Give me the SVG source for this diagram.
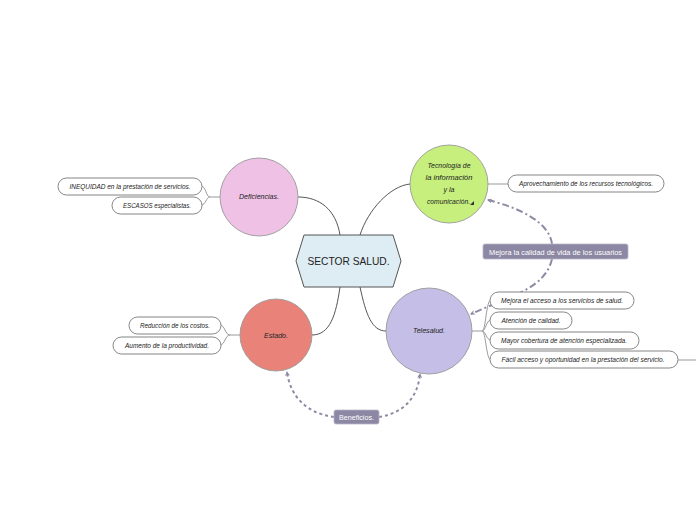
<svg xmlns="http://www.w3.org/2000/svg" width="696" height="520" viewBox="0 0 696 520">
<defs>
<marker id="arr" viewBox="0 0 10 10" refX="8" refY="5" markerWidth="5" markerHeight="5" orient="auto-start-reverse" markerUnits="userSpaceOnUse">
<path d="M0,0 L10,5 L0,10 L3,5 Z" fill="#8e8aa6"/>
</marker>
</defs>
<style>
.conn{fill:none;stroke:#555;stroke-width:1}
.leafc{fill:none;stroke:#999;stroke-width:1}
.pill{fill:#fff;stroke:#777;stroke-width:0.9}
.t{font-family:"Liberation Sans",Arial,sans-serif;font-style:italic;font-size:7px;fill:#222}
.rel{fill:none;stroke:#8e8aa6;stroke-width:2}
.lab{fill:#8c87a3;stroke:#b9b5c9;stroke-width:0.8}
.lt{font-family:"Liberation Sans",Arial,sans-serif;font-size:7.5px;fill:#fff}
.circ{stroke:#999;stroke-width:0.9}
</style>
<rect width="696" height="520" fill="#fff"/>
<g id="connectors">
<path class="conn" d="M340,235 C336,210 320,197 298,197"/>
<path class="conn" d="M360,235 C368,210 390,186 410,184"/>
<path class="conn" d="M340,287 C336,315 330,335 312,335"/>
<path class="conn" d="M360,287 C366,315 372,331 386,331"/>
<path class="leafc" d="M220,197 H210 C206,197 206,186 201,186 M210,197 C206,197 206,205 201,205"/>
<path class="leafc" d="M488,184 H508"/>
<path class="leafc" d="M240,335 H230 C225,335 225,325 220,325 M230,335 C225,335 225,345 220,345"/>
<path class="leafc" d="M472,331 H482 C486,331 486,300 491,300 M482,331 C486,331 486,320 491,320 M482,331 C486,331 486,340 491,340 M482,331 C486,331 486,360 491,360"/>
<path class="leafc" d="M678,360 H696"/>
<path class="rel" stroke-dasharray="7 3 2 3" d="M552,244 C549,222 520,208 488,200" marker-end="url(#arr)"/>
<path class="rel" stroke-dasharray="7 3 2 3" d="M552,259 C545,290 505,298 471,314" marker-end="url(#arr)"/>
<path class="rel" stroke-dasharray="3 3" d="M334,417 C305,413 290,395 287,372" marker-end="url(#arr)"/>
<path class="rel" stroke-dasharray="3 3" d="M379,417 C405,413 418,396 420,374" marker-end="url(#arr)"/>
</g>
<g id="center">
<polygon points="296,261 304,235 393,235 401,261 393,287 304,287" fill="#deedf3" stroke="#555" stroke-width="1"/>
<text x="348.5" y="265" text-anchor="middle" font-family="'Liberation Sans Narrow','Liberation Sans',sans-serif" font-size="11" fill="#222" textLength="82" lengthAdjust="spacingAndGlyphs">SECTOR SALUD.</text>
</g>
<g id="deficiencias">
<circle class="circ" cx="259" cy="197" r="39" fill="#efc1e5"/>
<text class="t" x="259" y="199" text-anchor="middle" textLength="40" lengthAdjust="spacingAndGlyphs">Deficiencias.</text>
</g>
<g id="inequidad">
<rect class="pill" x="58" y="178" width="144" height="17" rx="8.5"/>
<text class="t" x="130" y="189" text-anchor="middle" textLength="121" lengthAdjust="spacingAndGlyphs">INEQUIDAD en la prestación de servicios.</text>
</g>
<g id="escasos">
<rect class="pill" x="112" y="197" width="90" height="17" rx="8.5"/>
<text class="t" x="157" y="208" text-anchor="middle" textLength="68" lengthAdjust="spacingAndGlyphs">ESCASOS especialistas.</text>
</g>
<g id="tecnologia">
<circle class="circ" cx="449" cy="184" r="39" fill="#c6ef7d"/>
<text class="t" x="449" y="168" text-anchor="middle" textLength="43" lengthAdjust="spacingAndGlyphs">Tecnología de</text>
<text class="t" x="449" y="180" text-anchor="middle" textLength="47" lengthAdjust="spacingAndGlyphs">la información</text>
<text class="t" x="449" y="192" text-anchor="middle">y la</text>
<text class="t" x="448.5" y="204" text-anchor="middle" textLength="43" lengthAdjust="spacingAndGlyphs">comunicación.</text>
<polygon points="470,205 474,201 474,205" fill="#333"/>
</g>
<g id="aprovechamiento">
<rect class="pill" x="508" y="175" width="156" height="17" rx="8.5"/>
<text class="t" x="586" y="186" text-anchor="middle" textLength="134" lengthAdjust="spacingAndGlyphs">Aprovechamiento de los recursos tecnológicos.</text>
</g>
<g id="estado">
<circle class="circ" cx="276" cy="335" r="36" fill="#e9837a"/>
<text class="t" x="276" y="338" text-anchor="middle" textLength="24" lengthAdjust="spacingAndGlyphs">Estado.</text>
</g>
<g id="reduccion">
<rect class="pill" x="129" y="317" width="92" height="17" rx="8.5"/>
<text class="t" x="175" y="328" text-anchor="middle" textLength="70" lengthAdjust="spacingAndGlyphs">Reducción de los costos.</text>
</g>
<g id="aumento">
<rect class="pill" x="113" y="337" width="108" height="17" rx="8.5"/>
<text class="t" x="167" y="348" text-anchor="middle" textLength="84" lengthAdjust="spacingAndGlyphs">Aumento de la productividad.</text>
</g>
<g id="telesalud">
<circle class="circ" cx="429" cy="331" r="43" fill="#c5bee6"/>
<text class="t" x="429" y="333" text-anchor="middle" textLength="32" lengthAdjust="spacingAndGlyphs">Telesalud.</text>
</g>
<g id="mejora-acceso">
<rect class="pill" x="490" y="292" width="144" height="17" rx="8.5"/>
<text class="t" x="562" y="303" text-anchor="middle" textLength="122" lengthAdjust="spacingAndGlyphs">Mejora el acceso a los servicios de salud.</text>
</g>
<g id="atencion">
<rect class="pill" x="490" y="312" width="82" height="17" rx="8.5"/>
<text class="t" x="531" y="323" text-anchor="middle" textLength="59" lengthAdjust="spacingAndGlyphs">Atención de calidad.</text>
</g>
<g id="cobertura">
<rect class="pill" x="490" y="332" width="149" height="17" rx="8.5"/>
<text class="t" x="564" y="343" text-anchor="middle" textLength="126" lengthAdjust="spacingAndGlyphs">Mayor cobertura de atención especializada.</text>
</g>
<g id="facil">
<rect class="pill" x="490" y="351" width="188" height="17" rx="8.5"/>
<text class="t" x="583" y="362" text-anchor="middle" textLength="163" lengthAdjust="spacingAndGlyphs">Fácil acceso y oportunidad en la prestación del servicio.</text>
</g>
<g id="label-calidad">
<rect class="lab" x="483" y="244" width="145" height="15" rx="2"/>
<text class="lt" x="555.5" y="254.5" text-anchor="middle" textLength="133" lengthAdjust="spacingAndGlyphs">Mejora la calidad de vida de los usuarios</text>
</g>
<g id="label-beneficios">
<rect class="lab" x="334" y="410" width="45" height="14" rx="2"/>
<text class="lt" x="356.5" y="420" text-anchor="middle" textLength="35" lengthAdjust="spacingAndGlyphs">Beneficios.</text>
</g>
</svg>
